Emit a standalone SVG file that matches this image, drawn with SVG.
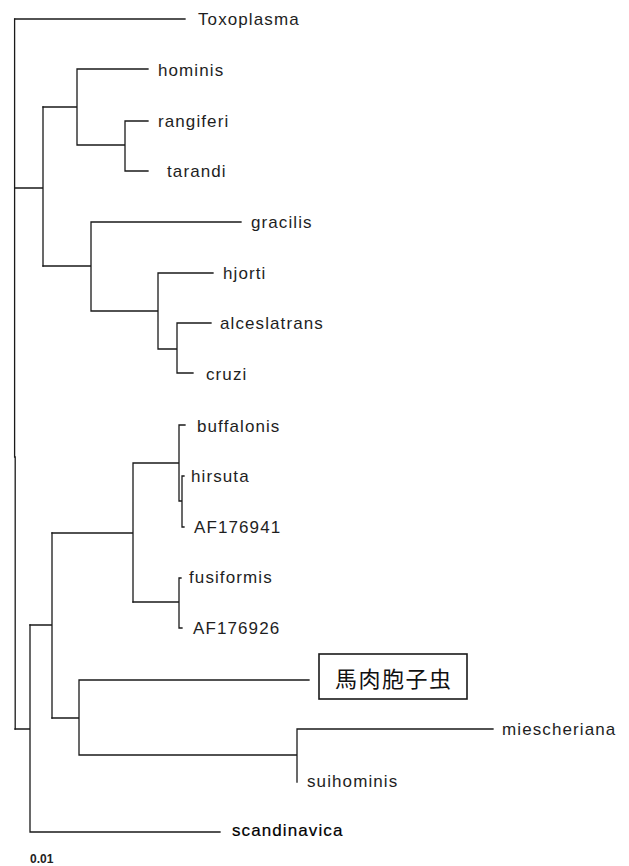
<svg xmlns="http://www.w3.org/2000/svg" width="629" height="866" viewBox="0 0 629 866">
<style>
.br{fill:none;stroke:#1a1a1a;stroke-width:1.3;stroke-linecap:square}
.lb{font-family:"Liberation Sans",Arial,sans-serif;font-size:17px;letter-spacing:1.1px;fill:#1e1e1e}
.cjk{font-family:"Noto Sans CJK JP","Noto Sans CJK SC",sans-serif;font-size:22px;letter-spacing:1.5px;fill:#111}
.box{fill:#fff;stroke:#1a1a1a;stroke-width:1.6}
.sc{font-family:"Liberation Sans",Arial,sans-serif;font-size:12px;font-weight:bold;fill:#222}
</style>
<rect width="629" height="866" fill="#fff"/>
<g id="connectors">
<path class="br" d="M14.6,19V457M15.2,457V729"/>
<path class="br" d="M15,19H185"/>
<path class="br" d="M15,188H43M43,107V266"/>
<path class="br" d="M43,107H77M77,69V145M77,69H148M77,145H125M125,121V171M125,121H148M125,171H148"/>
<path class="br" d="M43,266H91M91,222V311M91,222H241M91,311H158M158,273V349M158,273H213M158,349H177M177,323V373M177,323H211M177,373H193"/>
<path class="br" d="M15,729H30M30,625V832M30,832H220"/>
<path class="br" d="M30,625H52M52,533V718"/>
<path class="br" d="M52,533H133M133,463V602M133,463H179M179,425V501M179,425H185M179,501H182M182,476V527M182,476H184M182,527H184"/>
<path class="br" d="M133,602H179M179,578V628M179,578H181M179,628H182"/>
<path class="br" d="M52,718H79M79,680V755M79,680H309M79,755H297M297,729V782M297,729H493"/>
</g>
<g id="Toxoplasma"><text class="lb" x="198" y="25">Toxoplasma</text></g>
<g id="hominis"><text class="lb" x="158" y="76">hominis</text></g>
<g id="rangiferi"><text class="lb" x="158" y="127">rangiferi</text></g>
<g id="tarandi"><text class="lb" x="167" y="177">tarandi</text></g>
<g id="gracilis"><text class="lb" x="251" y="228">gracilis</text></g>
<g id="hjorti"><text class="lb" x="223" y="279">hjorti</text></g>
<g id="alceslatrans"><text class="lb" x="220" y="329">alceslatrans</text></g>
<g id="cruzi"><text class="lb" x="206" y="380">cruzi</text></g>
<g id="buffalonis"><text class="lb" x="197" y="432">buffalonis</text></g>
<g id="hirsuta"><text class="lb" x="191" y="482">hirsuta</text></g>
<g id="AF176941"><text class="lb" x="194" y="533">AF176941</text></g>
<g id="fusiformis"><text class="lb" x="189" y="583">fusiformis</text></g>
<g id="AF176926"><text class="lb" x="193" y="634">AF176926</text></g>
<g id="horse-sarcocystis"><rect class="box" x="319" y="654" width="148" height="45"/><text class="cjk" x="335" y="687">馬肉胞子虫</text></g>
<g id="miescheriana"><text class="lb" x="502" y="735">miescheriana</text></g>
<g id="suihominis"><text class="lb" x="307" y="787">suihominis</text></g>
<g id="scandinavica"><text class="lb" x="232" y="836" style="fill:#000;stroke:#000;stroke-width:0.2">scandinavica</text></g>
<g id="scale"><text class="sc" x="30" y="863">0.01</text></g>
</svg>
